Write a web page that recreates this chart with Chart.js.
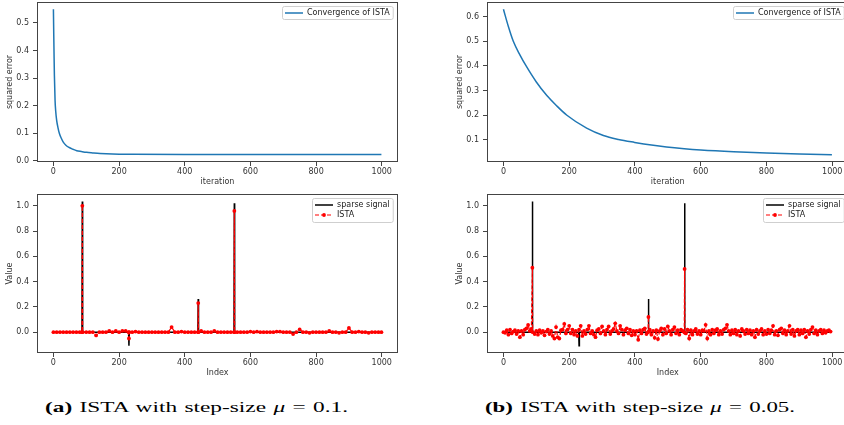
<!DOCTYPE html>
<html>
<head>
<meta charset="utf-8">
<script src="https://cdn.jsdelivr.net/npm/chart.js@4.4.1/dist/chart.umd.min.js"></script>
<style>
  body { margin:0; background:#fff; width:844px; height:425px; overflow:hidden; position:relative; }
  canvas { position:absolute; }
  .cap { position:absolute; font-family:"Liberation Serif", serif; font-size:15px; color:#000; white-space:nowrap; word-spacing:1px; transform-origin:left center; }
</style>
</head>
<body>
<canvas id="errA" width="420" height="190" style="left:0;top:0"></canvas>
<canvas id="errB" width="440" height="190" style="left:420px;top:0"></canvas>
<canvas id="sigA" width="420" height="200" style="left:0;top:190px"></canvas>
<canvas id="sigB" width="440" height="200" style="left:420px;top:190px"></canvas>
<div class="cap" data-w="303" style="left:45px;top:399px"><b>(a)</b> ISTA with step-size <i>μ</i> = 0.1.</div>
<div class="cap" data-w="310" style="left:485px;top:399px"><b>(b)</b> ISTA with step-size <i>μ</i> = 0.05.</div>
<script>
// ========================== DATA ==========================
// convergence, mu = 0.1
const iterA = [0,1,2,3,5,7,10,14,18,24,30,38,46,60,71,85,101,120,142,180,243,400,600,800,999];
const errA  = [0.55,0.46,0.38,0.31,0.22,0.18,0.146,0.12,0.1,0.082,0.068,0.057,0.05,0.042,0.037,0.034,0.031,0.029,0.027,0.025,0.024,0.023,0.023,0.023,0.023];

// convergence, mu = 0.05
const iterB = [0,15,30,50,69,100,132,160,193,253,304,350,399,450,496,550,600,700,800,900,999];
const errB  = [0.63,0.56,0.5,0.445,0.4,0.335,0.28,0.241,0.2,0.148,0.118,0.102,0.09,0.079,0.071,0.064,0.059,0.052,0.047,0.043,0.04];

// true sparse signal
const signalIdx = [0,87,88,89,229,230,231,440,441,442,550,551,552,999];
const signalVal = [0,0,1.035,0,0,-0.108,0,0,0.262,0,0,1.02,0,0];

// ISTA estimate, mu = 0.1
const istaIdxA = [
  0,10,20,30,40,50,60,70,80,87,88,89,100,110,120,130,140,150,160,170,180,190,
  200,210,220,229,230,231,240,250,260,270,280,290,300,310,320,330,340,350,360,370,380,390,
  400,410,420,430,440,441,442,450,460,470,480,490,500,510,520,530,540,550,551,552,560,570,580,590,
  600,610,620,630,640,650,660,670,680,690,700,710,720,730,740,750,760,770,780,790,
  800,810,820,830,840,850,860,870,880,890,900,910,920,930,940,950,960,970,980,990,999
];
const istaValA = [
  0,0,0,0,0,0,0,0,0,0,1.0,0,0,0,0,-0.026,0,0,0,0.01,0,0.01,
  0,0.01,0.01,0,-0.05,0,0,0.005,0,0,0,0,0,0,0,0,0,0,0.04,0,0,0.005,
  0,0,0,0,0,0.23,0,0.01,0,0,0,0.01,0,0,0,0,0,0,0.96,0,0,0,0,0,
  0.005,0,0.005,0,0,0,0,0,0.005,0.005,0,0,0,-0.015,0,0.022,0,0,-0.005,0,
  0,0,0,0,0.01,0,0,-0.005,0,0,0.033,0,0,0.005,0,0,-0.005,0,0,0,0
];

// ISTA estimate, mu = 0.05
const istaIdxB = [
  0,5,10,15,20,25,30,35,40,45,50,55,60,65,70,75,80,85,88,89,95,
  100,105,110,115,120,125,130,135,140,145,150,155,160,165,170,175,180,185,190,195,
  200,205,210,215,220,225,230,235,240,245,250,255,260,265,270,275,280,285,290,295,
  300,305,310,315,320,325,330,335,340,345,350,355,360,365,370,375,380,385,390,395,
  400,405,410,415,420,425,430,435,440,441,442,445,450,455,460,465,470,475,480,485,490,495,
  500,505,510,515,520,525,530,535,540,545,550,551,552,555,560,565,570,575,580,585,590,595,
  600,605,610,615,620,625,630,635,640,645,650,655,660,665,670,675,680,685,690,695,
  700,705,710,715,720,725,730,735,740,745,750,755,760,765,770,775,780,785,790,795,
  800,805,810,815,820,825,830,835,840,845,850,855,860,865,870,875,880,885,890,895,
  900,905,910,915,920,925,930,935,940,945,950,955,960,965,970,975,980,985,990,995
];
const istaValB = [
  0,-0.005,0.015,-0.02,0.02,-0.01,0.005,0.015,-0.015,0.01,-0.04,0.01,-0.02,0.02,0.03,0.057,0.01,0.025,0.51,0,-0.015,
  0.01,-0.02,0.015,-0.005,0.01,-0.025,0.005,0.02,-0.015,0.01,-0.03,-0.05,0.04,-0.04,-0.05,0.015,0.02,0.065,-0.01,0.02,
  0.05,-0.01,0.02,-0.02,0.01,-0.03,0.02,0.05,-0.03,0.01,-0.015,0.02,0.05,-0.01,0.01,-0.02,-0.04,0.015,0.025,-0.01,
  0.045,0.01,-0.02,0.02,0.045,-0.015,0.01,0.025,0.07,0.01,-0.01,0.05,0.02,-0.02,0.015,0.03,-0.01,0.02,-0.025,0.01,
  -0.02,0.01,-0.06,0.015,-0.01,0.02,0.03,-0.015,0,0.12,0.005,0.02,-0.02,0.01,-0.045,0.015,-0.055,0.01,0.03,-0.02,0.025,-0.01,
  0.045,0.01,-0.02,0.02,0.04,-0.01,0.015,-0.02,0.02,0.01,0,0.50,-0.005,-0.01,0.02,-0.05,0.015,-0.02,0.01,0.025,-0.015,0.01,
  -0.02,0.015,0.01,0.058,-0.05,0.01,-0.02,0.02,-0.01,0.015,0.025,-0.02,0.01,-0.015,0.02,0.03,0.058,0.01,-0.02,0.015,
  -0.01,0.02,-0.02,0.01,-0.03,0.025,0.01,-0.015,0.02,-0.01,0.015,-0.02,0.01,-0.04,0.02,-0.015,0.01,0.025,-0.02,0.01,
  -0.015,0.02,-0.01,0.015,0.05,-0.02,0.01,-0.025,0.02,0.03,-0.01,0.015,-0.02,0.01,0.05,-0.015,0.02,-0.03,0.01,0.02,
  -0.02,0.015,-0.01,0.02,-0.04,0.01,-0.015,0.02,0.04,-0.01,0.015,-0.02,0.01,0.02,-0.01,0.015,-0.005,0.01,0.015,0.005
];

// tick labels
const iterTicks  = [0,200,400,600,800,1000];
const errTicksA  = [0.0,0.1,0.2,0.3,0.4,0.5];
const errTicksB  = [0.1,0.2,0.3,0.4,0.5,0.6];
const valueTicks = [0.0,0.2,0.4,0.6,0.8,1.0];

// ========================== HELPERS ==========================
function pts(xs, ys){
  return xs.map((x,i) => ({x:x, y:ys[i]}));
}

Chart.defaults.font.family = '"DejaVu Sans", sans-serif';
Chart.defaults.font.size = 8;
Chart.defaults.color = '#333';

// box around the axes, like matplotlib spines
const framePlugin = {
  id:'frame',
  afterDatasetsDraw(chart){
    const a = chart.chartArea, ctx = chart.ctx;
    ctx.save();
    ctx.strokeStyle = '#444';
    ctx.lineWidth = 1;
    ctx.strokeRect(Math.round(a.left)+0.5, Math.round(a.top)+0.5,
                   Math.round(a.right-a.left)-1, Math.round(a.bottom-a.top)-1);
    ctx.restore();
  }
};

// matplotlib style legend box in upper right
const legendPlugin = {
  id:'mplLegend',
  afterDraw(chart){
    const a = chart.chartArea, ctx = chart.ctx;
    const items = chart.data.datasets;
    ctx.save();
    ctx.font = '8px "DejaVu Sans"';
    const tw = Math.max(...items.map(d => ctx.measureText(d.label).width));
    const w = 3 + 18 + 4 + tw + 3;
    const h = items.length * 11 + 2;
    const x = Math.round(a.right - 5 - w);
    const y = Math.round(a.top + 4);
    ctx.fillStyle = 'rgba(255,255,255,0.85)';
    ctx.strokeStyle = '#cfcfcf';
    ctx.lineWidth = 1;
    ctx.beginPath();
    ctx.roundRect(x+0.5, y+0.5, w, h, 2);
    ctx.fill();
    ctx.stroke();
    items.forEach((d,i) => {
      const cy = y + 7 + i*10;
      ctx.strokeStyle = d.borderColor;
      ctx.lineWidth = d.borderWidth;
      ctx.setLineDash(d.borderDash || []);
      ctx.beginPath();
      ctx.moveTo(x+3, cy);
      ctx.lineTo(x+21, cy);
      ctx.stroke();
      ctx.setLineDash([]);
      if(d.pointRadius > 0){
        ctx.fillStyle = d.pointBackgroundColor;
        ctx.beginPath();
        ctx.arc(x+12, cy, d.pointRadius, 0, Math.PI*2);
        ctx.fill();
      }
      ctx.fillStyle = '#222';
      ctx.textBaseline = 'middle';
      ctx.fillText(d.label, x+25, cy);
    });
    ctx.restore();
  }
};

function makeChart(id, datasets, o){
  return new Chart(document.getElementById(id), {
    type:'line',
    data:{ datasets:datasets },
    options:{
      responsive:false,
      animation:false,
      layout:{ padding:o.pad },
      plugins:{ legend:{display:false}, tooltip:{enabled:false} },
      scales:{
        x:{
          type:'linear', position:'bottom', min:-50, max:1049.5,
          grid:{ drawOnChartArea:false, drawTicks:true, tickLength:4, color:'#444' },
          border:{ display:false },
          ticks:{ padding:1, maxRotation:0, callback:v => String(v) },
          title:{ display:true, text:o.xTitle, padding:{top:0,bottom:3} },
          afterBuildTicks:s => { s.ticks = iterTicks.map(v => ({value:v})); },
          afterFit:s => { s.height = 28; s.paddingLeft = 0; s.paddingRight = 0; }
        },
        y:{
          type:'linear', min:o.yMin, max:o.yMax,
          grid:{ drawOnChartArea:false, drawTicks:true, tickLength:4, color:'#444' },
          border:{ display:false },
          ticks:{ padding:4, callback:v => v.toFixed(1) },
          title:{ display:true, text:o.yTitle, padding:{top:5,bottom:0} },
          afterBuildTicks:s => { s.ticks = o.yTicks.map(v => ({value:v})); },
          afterFit:s => { s.width = 37; s.paddingTop = 0; s.paddingBottom = 0; }
        }
      }
    },
    plugins:[framePlugin, legendPlugin]
  });
}

function convergence(xs, ys){
  return [{
    label:'Convergence of ISTA',
    data:pts(xs, ys),
    borderColor:'#1f77b4',
    borderWidth:1.5,
    pointRadius:0,
    cubicInterpolationMode:'monotone'
  }];
}

function recovery(xs, ys){
  return [{
    label:'sparse signal',
    data:pts(signalIdx, signalVal),
    borderColor:'#000',
    borderWidth:1.5,
    pointRadius:0,
    order:2
  },{
    label:'ISTA',
    data:pts(xs, ys),
    borderColor:'#ff0000',
    borderWidth:1.2,
    borderDash:[4,2],
    pointRadius:1.9,
    pointBorderWidth:0,
    pointBackgroundColor:'#ff0000',
    pointBorderColor:'#ff0000',
    order:1
  }];
}

// ========================== CHARTS ==========================
makeChart('errA', convergence(iterA, errA), {
  pad:{left:0, top:2, right:22, bottom:0},
  xTitle:'iteration', yTitle:'squared error',
  yMin:-0.004, yMax:0.576, yTicks:errTicksA
});
makeChart('errB', convergence(iterB, errB), {
  pad:{left:30, top:2, right:11.5, bottom:0},
  xTitle:'iteration', yTitle:'squared error',
  yMin:0.0105, yMax:0.6595, yTicks:errTicksB
});
makeChart('sigA', recovery(istaIdxA, istaValA), {
  pad:{left:0, top:3, right:22, bottom:9},
  xTitle:'Index', yTitle:'Value',
  yMin:-0.165, yMax:1.094, yTicks:valueTicks
});
makeChart('sigB', recovery(istaIdxB, istaValB), {
  pad:{left:30, top:3, right:11.5, bottom:9},
  xTitle:'Index', yTitle:'Value',
  yMin:-0.165, yMax:1.094, yTicks:valueTicks
});

// ========================== CAPTIONS ==========================
// the captions in the figure are wider than the font, stretch to fit
document.querySelectorAll('.cap').forEach(el => {
  const w = el.getBoundingClientRect().width;
  el.style.transform = 'scaleX(' + (Number(el.dataset.w) / w) + ')';
});
</script>
</body>
</html>
